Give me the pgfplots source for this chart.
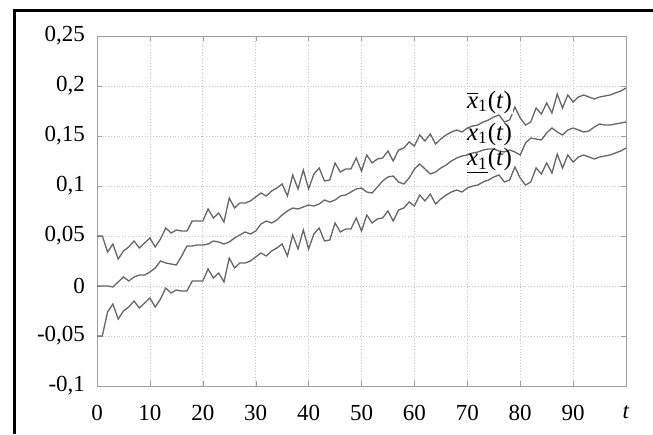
\documentclass[border=0pt]{standalone}
\usepackage{fontspec}
\setmainfont{Liberation Serif}
\usepackage{pgfplots}
\usepackage{pgfplotstable}
\pgfplotsset{compat=1.18}
\pgfplotstableread{
t L M U
0 -0.050 0.000 0.050
1 -0.050 0.000 0.050
2 -0.026 0.000 0.034
3 -0.018 -0.001 0.042
4 -0.033 0.004 0.027
5 -0.025 0.009 0.035
6 -0.021 0.005 0.039
7 -0.015 0.009 0.045
8 -0.022 0.011 0.038
9 -0.017 0.011 0.043
10 -0.012 0.014 0.048
11 -0.021 0.018 0.039
12 -0.013 0.025 0.047
13 -0.002 0.023 0.058
14 -0.007 0.022 0.053
15 -0.004 0.021 0.056
16 -0.005 0.030 0.055
17 -0.005 0.040 0.055
18 0.005 0.040 0.065
19 0.005 0.041 0.065
20 0.005 0.041 0.065
21 0.017 0.042 0.077
22 0.008 0.045 0.068
23 0.013 0.044 0.073
24 0.004 0.042 0.064
25 0.028 0.044 0.088
26 0.018 0.048 0.078
27 0.023 0.051 0.083
28 0.023 0.054 0.083
29 0.025 0.052 0.085
30 0.029 0.055 0.089
31 0.033 0.062 0.093
32 0.030 0.065 0.090
33 0.035 0.063 0.095
34 0.038 0.066 0.098
35 0.042 0.071 0.102
36 0.030 0.075 0.090
37 0.051 0.078 0.111
38 0.037 0.077 0.097
39 0.056 0.079 0.116
40 0.037 0.081 0.097
41 0.052 0.080 0.112
42 0.058 0.082 0.118
43 0.045 0.086 0.105
44 0.046 0.084 0.106
45 0.063 0.086 0.123
46 0.054 0.090 0.114
47 0.057 0.091 0.117
48 0.057 0.094 0.117
49 0.068 0.097 0.128
50 0.055 0.098 0.115
51 0.071 0.094 0.131
52 0.063 0.093 0.123
53 0.067 0.099 0.127
54 0.068 0.105 0.128
55 0.075 0.109 0.135
56 0.065 0.110 0.125
57 0.076 0.104 0.136
58 0.078 0.102 0.138
59 0.084 0.108 0.144
60 0.080 0.117 0.140
61 0.091 0.122 0.151
62 0.085 0.117 0.145
63 0.092 0.112 0.152
64 0.082 0.114 0.142
65 0.087 0.118 0.147
66 0.091 0.121 0.151
67 0.094 0.125 0.154
68 0.096 0.128 0.156
69 0.094 0.130 0.154
70 0.098 0.131 0.158
71 0.100 0.133 0.160
72 0.101 0.134 0.161
73 0.104 0.136 0.164
74 0.106 0.137 0.166
75 0.109 0.137 0.169
76 0.111 0.135 0.171
77 0.104 0.134 0.164
78 0.106 0.136 0.166
79 0.119 0.134 0.179
80 0.108 0.131 0.168
81 0.101 0.143 0.161
82 0.104 0.148 0.164
83 0.118 0.147 0.178
84 0.112 0.146 0.172
85 0.123 0.153 0.183
86 0.113 0.158 0.173
87 0.132 0.154 0.192
88 0.118 0.151 0.178
89 0.131 0.156 0.191
90 0.124 0.158 0.184
91 0.129 0.156 0.189
92 0.131 0.154 0.191
93 0.129 0.155 0.189
94 0.127 0.159 0.187
95 0.129 0.162 0.189
96 0.130 0.161 0.190
97 0.131 0.161 0.191
98 0.133 0.162 0.193
99 0.135 0.163 0.195
100 0.138 0.164 0.198
}\data
\newcommand{\lblfont}{\fontsize{11.5pt}{13pt}\selectfont}
\newcommand{\curvefont}{\fontsize{12.5pt}{14pt}\selectfont}
\begin{document}
\lblfont
\begin{tikzpicture}
\useasboundingbox (0,0) rectangle (326.5pt,217pt);
\draw[line width=1.5pt] (7.2pt,0) -- (7.2pt,211.5pt) -- (326.5pt,211.5pt);
\begin{axis}[
  at={(48.5pt,24pt)}, anchor=south west,
  width=264.5pt, height=175pt, scale only axis,
  xmin=0, xmax=100, ymin=-0.1, ymax=0.25,
  xtick={0,10,20,30,40,50,60,70,80,90,100},
  xticklabels={0,10,20,30,40,50,60,70,80,90,\textit{t}},
  ytick={-0.1,-0.05,0,0.05,0.1,0.15,0.2,0.25},
  scaled y ticks=false,
  /pgf/number format/fixed,
  /pgf/number format/precision=2,
  /pgf/number format/use comma,
  /pgf/number format/assume math mode=true,
  tick label style={font=\lblfont},
  xticklabel style={yshift=-5.5pt},
  yticklabel style={xshift=-2pt},
  grid=major,
  major grid style={densely dotted, gray!45},
  axis line style={gray!75},
  tick style={gray!75},
  tick align=inside,
  major tick length=2.5pt,
  clip=false,
]
\addplot[gray!80!black, line width=0.65pt] table[x=t,y=U] {\data};
\addplot[gray!80!black, line width=0.65pt] table[x=t,y=M] {\data};
\addplot[gray!80!black, line width=0.65pt] table[x=t,y=L] {\data};
\node[font=\curvefont, fill=white, inner sep=0.5pt] at (axis cs:74.2,0.184) {$\overline{\hbox{\textit{x}}}$\textsubscript{1}(\textit{t})};
\node[font=\curvefont, inner sep=0.5pt] at (axis cs:74.2,0.152) {\textit{x}\textsubscript{1}(\textit{t})};
\node[font=\curvefont, inner sep=0.5pt] at (axis cs:74.2,0.125) {$\underline{\hbox{\textit{x}\textsubscript{1}}}$(\textit{t})};
\end{axis}
\end{tikzpicture}
\end{document}
